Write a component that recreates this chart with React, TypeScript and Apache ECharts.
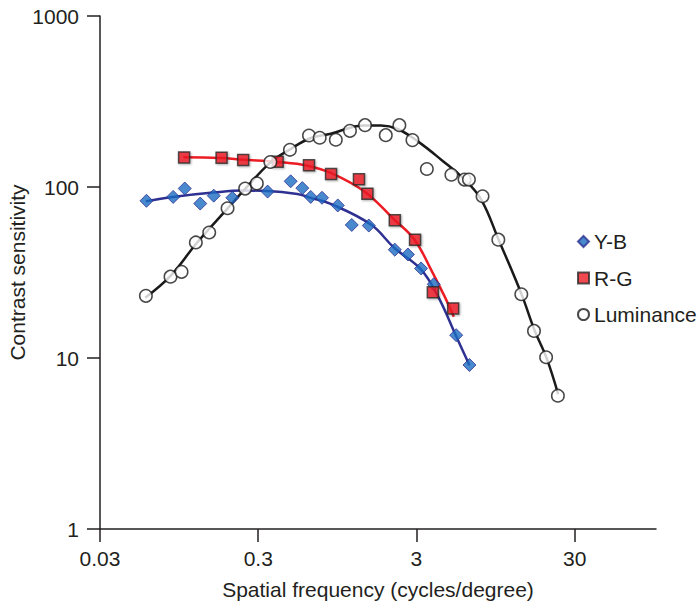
import React, { useEffect, useRef } from "react";
import * as echarts from "echarts";

// Measured data (spatial frequency in cycles/degree, contrast sensitivity)
const ybFreq = [0.059, 0.087, 0.103, 0.129, 0.157, 0.206, 0.344, 0.481, 0.57, 0.644, 0.759, 0.955, 1.17, 1.5, 2.19, 2.65, 3.21, 3.86, 5.35, 6.49];
const ybSens = [83, 87.5, 98, 80, 89, 86.5, 94, 108, 98.5, 87.5, 86.5, 78, 60, 59.5, 43, 40.3, 33.4, 27, 13.6, 9.1];

const rgFreq = [0.102, 0.176, 0.241, 0.398, 0.628, 0.866, 1.3, 1.47, 2.19, 2.94, 3.81, 5.12];
const rgSens = [149, 148.5, 144, 140.7, 134, 119, 111, 91.3, 64, 49.2, 24.2, 19.5];

const lumFreq = [0.0585, 0.0837, 0.0983, 0.121, 0.147, 0.192, 0.248, 0.294, 0.358, 0.476, 0.628, 0.734, 0.928, 1.14, 1.42, 1.92, 2.34, 2.83, 3.49, 4.99, 6.04, 6.44, 7.85, 9.88, 13.8, 16.6, 19.8, 23.5];
const lumSens = [23.1, 29.9, 31.9, 47.4, 54.2, 75.1, 97.9, 105, 140, 165, 200, 194, 189, 213, 230, 201, 230, 188, 127.5, 118, 110.5, 110.5, 88.3, 49.2, 23.6, 14.4, 10.1, 6.02];

// Fitted curves
const ybFitFreq = [0.0585, 0.0867, 0.156, 0.242, 0.342, 0.53, 0.644, 0.862, 1.546, 2.17, 3.21, 4.1, 5.35, 6.49];
const ybFitSens = [82.5, 87.5, 92.8, 95.3, 94.9, 91.1, 86.4, 79.7, 60.3, 44.1, 32.9, 23.0, 13.4, 9.07];

const rgFitFreq = [0.101, 0.173, 0.242, 0.396, 0.614, 0.862, 1.4, 2.17, 2.91, 3.71, 4.51, 5.17];
const rgFitSens = [149.1, 147.9, 144.5, 140.1, 133.3, 120.9, 94.4, 64.5, 49.3, 32.9, 23.0, 17.4];

const lumFitFreq = [0.0579, 0.0834, 0.123, 0.191, 0.249, 0.359, 0.481, 0.644, 0.862, 1.4, 1.79, 2.28, 3.06, 4.3, 6.04, 7.7, 9.92, 13.8, 16.8, 19.9, 23.6];
const lumFitSens = [22.5, 30.1, 47.2, 74.5, 97.9, 139.4, 166.9, 193.5, 205, 229.2, 229.2, 218.4, 184.9, 144.5, 110.5, 84.4, 49.2, 23.8, 14.4, 10.05, 6.14];

const xTicks = [0.03, 0.3, 3, 30];
const yTicks = [1, 10, 100, 1000];
const seriesNames = ["Y-B", "R-G", "Luminance"];

const zip = (a: number[], b: number[]) => a.map((v, i) => [v, b[i]]);

const FONT = "'Liberation Sans', Arial, Helvetica, sans-serif";
const TXT = "#231f20";

export default function App() {
  const ref = useRef<HTMLDivElement>(null);
  useEffect(() => {
    document.body.style.margin = "0";
    if (!ref.current) return;
    const chart = echarts.init(ref.current, undefined, { renderer: "svg" });
    const axisLine = { show: true, lineStyle: { color: TXT, width: 1.5 } };
    chart.setOption({
      animation: false,
      backgroundColor: "#ffffff",
      textStyle: { fontFamily: FONT },
      grid: { left: 100, right: 43, top: 16, bottom: 76, containLabel: false, outerBoundsMode: "none" },
      legend: {
        orient: "vertical",
        left: 572,
        top: 226,
        itemWidth: 11,
        itemHeight: 11,
        itemGap: 15.5,
        data: seriesNames,
        textStyle: { fontSize: 21, color: TXT, fontFamily: FONT, lineHeight: 21 },
      },
      xAxis: {
        type: "log",
        logBase: 10,
        min: 0.03,
        max: 98,
        name: "Spatial frequency (cycles/degree)",
        nameLocation: "middle",
        nameGap: 50,
        nameMoveOverlap: false,
        nameTextStyle: { fontSize: 21, color: TXT, fontFamily: FONT },
        axisLine,
        axisTick: { show: true, length: 13, lineStyle: { color: TXT, width: 1.5 }, customValues: xTicks },
        axisLabel: { fontSize: 21, color: TXT, margin: 19, customValues: xTicks, formatter: (v: number) => String(v) },
        splitLine: { show: false },
        minorTick: { show: false },
      },
      yAxis: {
        type: "log",
        logBase: 10,
        min: 1,
        max: 1000,
        name: "Contrast sensitivity",
        nameLocation: "middle",
        nameGap: 72,
        nameMoveOverlap: false,
        nameTextStyle: { fontSize: 21, color: TXT, fontFamily: FONT },
        axisLine,
        axisTick: { show: true, length: 13, lineStyle: { color: TXT, width: 1.5 }, customValues: yTicks },
        axisLabel: { fontSize: 21, color: TXT, margin: 21, customValues: yTicks, formatter: (v: number) => String(v) },
        splitLine: { show: false },
      },
      series: [
        {
          name: "Y-B fit",
          type: "line",
          data: zip(ybFitFreq, ybFitSens),
          smooth: 0.4,
          symbol: "none",
          lineStyle: { color: "#2e3192", width: 2.5 },
          z: 1,
        },
        {
          name: "R-G fit",
          type: "line",
          data: zip(rgFitFreq, rgFitSens),
          smooth: 0.4,
          symbol: "none",
          lineStyle: { color: "#ed1c24", width: 2.5 },
          z: 1,
        },
        {
          name: "Luminance fit",
          type: "line",
          data: zip(lumFitFreq, lumFitSens),
          smooth: 0.4,
          symbol: "none",
          lineStyle: { color: "#1a1a1a", width: 2.5 },
          z: 1,
        },
        {
          name: "Y-B",
          type: "scatter",
          data: zip(ybFreq, ybSens),
          symbol: "diamond",
          symbolSize: 13,
          itemStyle: { color: "#1c6cc0", borderColor: "#2e3192", borderWidth: 1 },
          z: 3,
        },
        {
          name: "R-G",
          type: "scatter",
          data: zip(rgFreq, rgSens),
          symbol: "rect",
          symbolSize: 11,
          itemStyle: {
            color: "#ed1c24",
            borderColor: "#2b2b2b",
            borderWidth: 1.5,
            shadowColor: "rgba(0,0,0,0.35)",
            shadowBlur: 2,
            shadowOffsetX: 1,
            shadowOffsetY: 1,
          },
          z: 3,
        },
        {
          name: "Luminance",
          type: "scatter",
          data: zip(lumFreq, lumSens),
          symbol: "circle",
          symbolSize: 12.5,
          itemStyle: { color: "#ffffff", borderColor: "#1a1a1a", borderWidth: 1.5 },
          z: 3,
        },
      ],
    });
    return () => chart.dispose();
  }, []);
  return <div ref={ref} style={{ width: 699, height: 605 }} />;
}
